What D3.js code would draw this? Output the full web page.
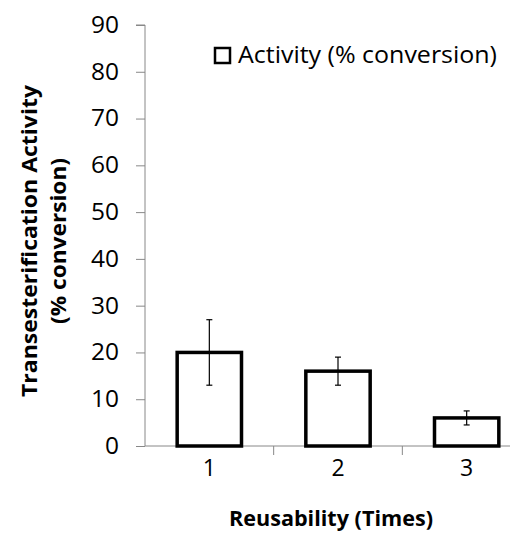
<!DOCTYPE html>
<html><head><meta charset="utf-8">
<script src="https://cdn.jsdelivr.net/npm/d3@7"></script>
<style>body{margin:0;background:#fff}svg{display:block}</style>
</head><body>
<svg id="c" width="513" height="534"></svg>
<script>
const categories = ["1", "2", "3"];
const values = [20, 16, 6];
const errors = [7, 3, 1.5];
const yTicks = [0, 10, 20, 30, 40, 50, 60, 70, 80, 90];
const seriesName = "Activity (% conversion)";
const yTitle = ["Transesterification Activity", "(% conversion)"];
const xTitle = "Reusability (Times)";

const svg = d3.select("#c");
const font = "'Open Sans', sans-serif";
const x0 = 145, x1 = 531, yTop = 25, yBot = 446;
const x = d3.scaleBand().domain(categories).range([x0, x1]).paddingInner(0.5).paddingOuter(0.25);
const y = d3.scaleLinear().domain([0, 90]).range([yBot, yTop]);

// y axis
const ya = svg.append("g").attr("transform", `translate(${x0},0)`)
  .call(d3.axisLeft(y).tickValues(yTicks).tickSize(9).tickPadding(17));
ya.select(".domain").attr("stroke", "#888").attr("d", `M-9,${yTop}H0V${yBot}`);
ya.selectAll(".tick line").attr("stroke", "#888");
ya.selectAll(".tick text").attr("font-family", font).attr("font-size", 23).attr("fill", "#000")
  .attr("textLength", function(){ return this.textContent.length * 14; }).attr("lengthAdjust", "spacingAndGlyphs");

// x axis
const xb = d3.scaleLinear().domain([0, 3]).range([x0, x1]);
svg.append("line").attr("x1", x0).attr("x2", 510).attr("y1", yBot).attr("y2", yBot).attr("stroke", "#888");
svg.selectAll(".xt").data([1, 2]).join("line")
  .attr("x1", d => xb(d)).attr("x2", d => xb(d)).attr("y1", yBot).attr("y2", yBot + 9).attr("stroke", "#888");
svg.selectAll(".xl").data(categories).join("text")
  .attr("x", d => x(d) + x.bandwidth() / 2).attr("y", 476).attr("text-anchor", "middle")
  .attr("font-family", font).attr("font-size", 23).text(d => d);

// bars
svg.selectAll(".bar").data(values).join("rect")
  .attr("x", (d, i) => x(categories[i])).attr("width", x.bandwidth())
  .attr("y", d => y(d)).attr("height", d => yBot - y(d))
  .attr("fill", "#fff").attr("stroke", "#000").attr("stroke-width", 3.5);

// error bars
const eb = svg.selectAll(".eb").data(values).join("g");
eb.each(function(d, i) {
  const g = d3.select(this), cx = x(categories[i]) + x.bandwidth() / 2;
  const t = y(d + errors[i]), b = y(d - errors[i]);
  g.append("line").attr("x1", cx).attr("x2", cx).attr("y1", t).attr("y2", b).attr("stroke", "#000").attr("stroke-width", 1.2);
  [t, b].forEach(v => g.append("line").attr("x1", cx - 3).attr("x2", cx + 3).attr("y1", v).attr("y2", v).attr("stroke", "#000").attr("stroke-width", 1.2));
});

// y title
const yt = svg.append("text").attr("transform", "translate(0,241) rotate(-90)")
  .attr("text-anchor", "middle").attr("font-family", font).attr("font-weight", "bold").attr("font-size", 22);
yt.append("tspan").attr("x", 0).attr("y", 37).attr("textLength", 312).attr("lengthAdjust", "spacingAndGlyphs").text(yTitle[0]);
yt.append("tspan").attr("x", 0).attr("y", 66).attr("textLength", 166).attr("lengthAdjust", "spacingAndGlyphs").text(yTitle[1]);

// x title
svg.append("text").attr("x", 331).attr("y", 526).attr("text-anchor", "middle")
  .attr("font-family", font).attr("font-weight", "bold").attr("font-size", 22)
  .attr("textLength", 204).attr("lengthAdjust", "spacingAndGlyphs").text(xTitle);

// legend
svg.append("rect").attr("x", 215).attr("y", 48).attr("width", 15).attr("height", 15)
  .attr("fill", "#fff").attr("stroke", "#000").attr("stroke-width", 2.5);
svg.append("text").attr("x", 238).attr("y", 63).attr("font-family", font).attr("font-size", 23)
  .attr("textLength", 259).attr("lengthAdjust", "spacingAndGlyphs").text(seriesName);
</script>
</body></html>
